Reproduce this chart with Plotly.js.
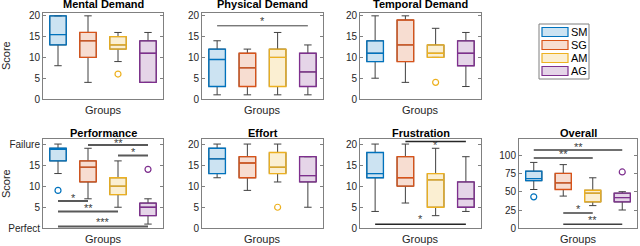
<!DOCTYPE html>
<html>
<head>
<meta charset="utf-8">
<script src="https://cdn.plot.ly/plotly-3.0.1.min.js"></script>
<style>html,body{margin:0;padding:0;background:#fff;}#chart{width:640px;height:246px;}</style>
</head>
<body>
<div id="chart"></div>
<script>
// ---------- data ----------
const groups = ['SM', 'SG', 'AM', 'AG'];
const groupPos = [1, 2, 3, 4];

const panelTitles = ['Mental Demand', 'Physical Demand', 'Temporal Demand', 'Performance', 'Effort', 'Frustration', 'Overall'];

const mentalLow  = [8, 4, 9, 4];
const mentalQ1   = [13, 10, 12, 4];
const mentalMed  = [15.5, 14, 13, 11];
const mentalQ3   = [20, 16, 15, 14];
const mentalHigh = [20, 20, 16, 16];
const mentalOutG = [3];
const mentalOutV = [6];

const physicalLow  = [1, 1, 1, 1];
const physicalQ1   = [3, 3, 3, 3];
const physicalMed  = [9.5, 7.5, 10, 6.5];
const physicalQ3   = [12, 11, 12, 11];
const physicalHigh = [14, 12, 16, 13];
const physicalOutG = [];
const physicalOutV = [];

const temporalLow  = [5, 4, 10, 3];
const temporalQ1   = [9, 9, 10, 8];
const temporalMed  = [11, 13, 11, 11];
const temporalQ3   = [14, 19, 13, 14];
const temporalHigh = [20, 20, 17, 16];
const temporalOutG = [3];
const temporalOutV = [4];

const perfLow  = [13, 7, 5, 1];
const perfQ1   = [16, 11, 8, 3];
const perfMed  = [19, 14.5, 10, 5];
const perfQ3   = [19, 16, 12, 6];
const perfHigh = [20, 19, 16, 7];
const perfOutG = [1, 4];
const perfOutV = [9, 14];

const effortLow  = [12, 9, 11, 5];
const effortQ1   = [13, 12, 13, 11];
const effortMed  = [16.5, 15.5, 14.5, 12.5];
const effortQ3   = [19, 17, 18, 17];
const effortHigh = [20, 20, 20, 17];
const effortOutG = [3];
const effortOutV = [5];

const frustLow  = [4, 6, 3, 4];
const frustQ1   = [12, 10, 5, 5];
const frustMed  = [13, 12, 11.5, 7];
const frustQ3   = [18, 17, 13, 11];
const frustHigh = [20, 20, 19, 17];
const frustOutG = [];
const frustOutV = [];

const overallLow  = [53, 44, 31, 25];
const overallQ1   = [65, 53, 36, 36];
const overallMed  = [68, 62, 48, 42];
const overallQ3   = [78, 75, 52, 48];
const overallHigh = [90, 87, 69, 50];
const overallOutG = [1, 4];
const overallOutV = [43, 77];

// significance brackets: from group, to group, level, label
const physicalSigFrom = [1];
const physicalSigTo   = [4];
const physicalSigY    = [17.6];
const physicalSigText = ['*'];

const perfSigFrom = [2, 3, 1, 1, 1];
const perfSigTo   = [4, 4, 2, 3, 4];
const perfSigY    = [19.8, 17.3, 6.5, 4.0, 0.4];
const perfSigText = ['**', '*', '*', '**', '***'];

const frustSigFrom = [2, 1];
const frustSigTo   = [4, 4];
const frustSigY    = [20.6, 0.95];
const frustSigText = ['*', '*'];

const overallSigFrom = [1, 1, 2, 2];
const overallSigTo   = [4, 3, 3, 4];
const overallSigY    = [107, 96, 21, 5.4];
const overallSigText = ['**', '**', '*', '**'];

const yTickVals = [0, 5, 10, 15, 20];
const perfTickText = ['Perfect', '5', '10', '15', 'Failure'];
const overallTickVals = [0, 25, 50, 75, 100];

// ---------- styles ----------
const lineColors = ['#0072BD', '#D95319', '#EDB120', '#7E2F8E'];
const fillColors = ['rgba(0,114,189,0.2)', 'rgba(217,83,25,0.2)', 'rgba(237,177,32,0.2)', 'rgba(126,47,142,0.2)'];
const FONT = 'Liberation Sans, Arial, sans-serif';
const AX = '#808080';

const panels = [
  {low: mentalLow, q1: mentalQ1, med: mentalMed, q3: mentalQ3, high: mentalHigh, og: mentalOutG, ov: mentalOutV, sig: null},
  {low: physicalLow, q1: physicalQ1, med: physicalMed, q3: physicalQ3, high: physicalHigh, og: physicalOutG, ov: physicalOutV,
   sig: {f: physicalSigFrom, t: physicalSigTo, y: physicalSigY, s: physicalSigText, w: 1, c: '#404040', off: [5]}},
  {low: temporalLow, q1: temporalQ1, med: temporalMed, q3: temporalQ3, high: temporalHigh, og: temporalOutG, ov: temporalOutV, sig: null},
  {low: perfLow, q1: perfQ1, med: perfMed, q3: perfQ3, high: perfHigh, og: perfOutG, ov: perfOutV,
   sig: {f: perfSigFrom, t: perfSigTo, y: perfSigY, s: perfSigText, w: 2, c: '#595959', off: [2, 3, 3, 3, 5]}},
  {low: effortLow, q1: effortQ1, med: effortMed, q3: effortQ3, high: effortHigh, og: effortOutG, ov: effortOutV, sig: null},
  {low: frustLow, q1: frustQ1, med: frustMed, q3: frustQ3, high: frustHigh, og: frustOutG, ov: frustOutV,
   sig: {f: frustSigFrom, t: frustSigTo, y: frustSigY, s: frustSigText, w: 1.5, c: '#262626', off: [-3, 5]}},
  {low: overallLow, q1: overallQ1, med: overallMed, q3: overallQ3, high: overallHigh, og: overallOutG, ov: overallOutV,
   sig: {f: overallSigFrom, t: overallSigTo, y: overallSigY, s: overallSigText, w: 1.5, c: '#404040', off: [3, 4, 4, 4]}}
];

const W = 640, H = 246;
const px = v => v / W, py = v => 1 - v / H;
const xDom = [[43, 163], [202, 323], [360, 481], [43, 163], [202, 323], [360, 481], [519, 637]];
const topRow = [12.5, 99];
const botRow = [139, 228.3];
const yRanges = [[0, 20.8], [0, 20.8], [0, 20.8], [0, 21.2], [0, 21.2], [0, 21.2], [0, 122]];

const traces = [];
const annotations = [];
const shapes = [];
const layout = {
  width: W, height: H,
  margin: {l: 0, r: 0, t: 0, b: 0},
  paper_bgcolor: '#ffffff', plot_bgcolor: '#ffffff',
  showlegend: false,
  boxmode: 'overlay',
  font: {family: FONT, size: 10, color: '#262626'}
};

panels.forEach((p, i) => {
  const n = i + 1;
  const xa = 'x' + (n === 1 ? '' : n), ya = 'y' + (n === 1 ? '' : n);
  const xKey = 'xaxis' + (n === 1 ? '' : n), yKey = 'yaxis' + (n === 1 ? '' : n);
  const row = i < 3 ? topRow : botRow;
  layout[xKey] = {
    domain: [px(xDom[i][0]), px(xDom[i][1])], range: [0.5, 4.5], anchor: ya,
    showticklabels: false, ticks: '', showgrid: false, zeroline: false,
    showline: true, mirror: true, linecolor: AX, linewidth: 1, fixedrange: true
  };
  const yax = {
    domain: [py(row[1]), py(row[0])], range: yRanges[i], anchor: xa,
    showgrid: false, zeroline: false, showline: true, mirror: 'ticks',
    linecolor: AX, linewidth: 1, ticks: 'inside', ticklen: 3, tickcolor: AX,
    tickfont: {family: FONT, size: 10, color: '#262626'}, fixedrange: true,
    tickvals: i === 6 ? overallTickVals : yTickVals
  };
  if (i === 3) yax.ticktext = perfTickText;
  layout[yKey] = yax;

  // whiskers (dark) for all groups
  traces.push({
    type: 'box', x: groupPos, q1: p.q1, median: p.med, q3: p.q3,
    lowerfence: p.low, upperfence: p.high, xaxis: xa, yaxis: ya,
    width: 0.55, whiskerwidth: 0.45, boxpoints: false,
    line: {color: '#404040', width: 1}, fillcolor: 'rgba(0,0,0,0)',
    showlegend: false, hoverinfo: 'skip'
  });
  // coloured boxes
  groups.forEach((g, k) => {
    traces.push({
      type: 'box', x: [groupPos[k]], q1: [p.q1[k]], median: [p.med[k]], q3: [p.q3[k]],
      lowerfence: [p.q1[k]], upperfence: [p.q3[k]], xaxis: xa, yaxis: ya,
      width: 0.55, whiskerwidth: 0, boxpoints: false,
      line: {color: lineColors[k], width: 1.3}, fillcolor: fillColors[k],
      name: g, showlegend: false, hoverinfo: 'skip'
    });
  });
  // outliers
  p.og.forEach((g, k) => {
    traces.push({
      type: 'scatter', mode: 'markers', x: [g], y: [p.ov[k]], xaxis: xa, yaxis: ya,
      marker: {symbol: 'circle-open', size: 6, color: lineColors[g - 1], line: {width: 1.2}},
      showlegend: false, hoverinfo: 'skip'
    });
  });
  // significance brackets
  if (p.sig) {
    p.sig.f.forEach((f, k) => {
      traces.push({
        type: 'scatter', mode: 'lines', x: [f, p.sig.t[k]], y: [p.sig.y[k], p.sig.y[k]],
        xaxis: xa, yaxis: ya, line: {color: p.sig.c, width: p.sig.w},
        showlegend: false, hoverinfo: 'skip', cliponaxis: false
      });
      annotations.push({
        xref: xa, yref: ya, x: (f + p.sig.t[k]) / 2, y: p.sig.y[k],
        text: p.sig.s[k], showarrow: false, xanchor: 'center', yanchor: 'middle', yshift: p.sig.off[k],
        font: {family: FONT, size: 11, color: '#404040'}
      });
    });
  }
  // panel title
  const cx = px((xDom[i][0] + xDom[i][1]) / 2);
  annotations.push({
    xref: 'paper', yref: 'paper', x: cx, y: i < 3 ? py(4) : py(133),
    text: '<b>' + panelTitles[i] + '</b>', showarrow: false, xanchor: 'center', yanchor: 'middle',
    font: {family: FONT, size: 11, color: '#000'}
  });
  // x axis label
  annotations.push({
    xref: 'paper', yref: 'paper', x: cx, y: i < 3 ? py(110) : py(239),
    text: 'Groups', showarrow: false, xanchor: 'center', yanchor: 'middle',
    font: {family: FONT, size: 11, color: '#262626'}
  });
});

// y axis labels
[56, 184].forEach(yc => {
  annotations.push({xref: 'paper', yref: 'paper', x: px(6), y: py(yc), text: 'Score', textangle: -90,
    xanchor: 'center', yanchor: 'middle',
    showarrow: false, font: {family: FONT, size: 11, color: '#262626'}});
});

// legend (drawn manually to match the original's compact box)
const legBox = {x0: 539, x1: 589, y0: 24, y1: 79};
shapes.push({type: 'rect', xref: 'paper', yref: 'paper', x0: px(legBox.x0), x1: px(legBox.x1),
  y0: py(legBox.y1), y1: py(legBox.y0), line: {color: '#7f7f7f', width: 1}, fillcolor: '#ffffff'});
groups.forEach((g, k) => {
  const yc = 32 + k * 13;
  shapes.push({type: 'rect', xref: 'paper', yref: 'paper', x0: px(542), x1: px(568),
    y0: py(yc + 4.5), y1: py(yc - 4.5), line: {color: lineColors[k], width: 1.2}, fillcolor: fillColors[k]});
  annotations.push({xref: 'paper', yref: 'paper', x: px(569), y: py(yc), text: g, showarrow: false,
    xanchor: 'left', yanchor: 'middle', font: {family: FONT, size: 11, color: '#000'}});
});

layout.annotations = annotations;
layout.shapes = shapes;

Plotly.newPlot('chart', traces, layout, {staticPlot: true, displayModeBar: false});
</script>
</body>
</html>
